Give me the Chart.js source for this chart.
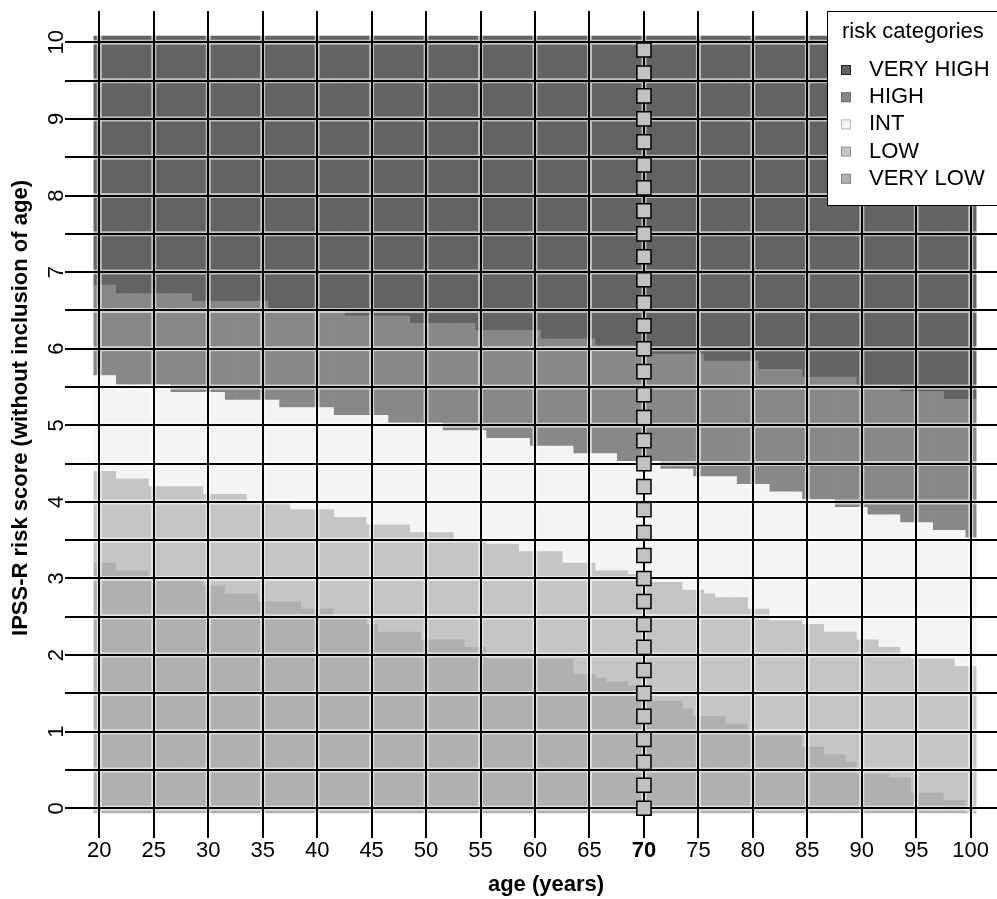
<!DOCTYPE html>
<html>
<head>
<meta charset="utf-8">
<script src="https://cdn.jsdelivr.net/npm/chart.js@4.4.1/dist/chart.umd.min.js"></script>
<style>
  html, body { margin: 0; padding: 0; background: #fff; }
  #wrap { width: 997px; height: 899px; }
</style>
</head>
<body>
<div id="wrap"><canvas id="chart" width="997" height="899"></canvas></div>
<script>
// ages on the x axis (one column per year)
const AGES = [
  20, 21, 22, 23, 24, 25, 26, 27, 28, 29,
  30, 31, 32, 33, 34, 35, 36, 37, 38, 39,
  40, 41, 42, 43, 44, 45, 46, 47, 48, 49,
  50, 51, 52, 53, 54, 55, 56, 57, 58, 59,
  60, 61, 62, 63, 64, 65, 66, 67, 68, 69,
  70, 71, 72, 73, 74, 75, 76, 77, 78, 79,
  80, 81, 82, 83, 84, 85, 86, 87, 88, 89,
  90, 91, 92, 93, 94, 95, 96, 97, 98, 99,
  100
];

// upper edge of each category band, per age (score units)
const TOP_VERY_LOW = [
  3.2, 3.2, 3.1, 3.1, 3.1, 3.0, 3.0, 3.0, 3.0, 3.0,
  2.9, 2.9, 2.8, 2.8, 2.8, 2.7, 2.7, 2.7, 2.7, 2.6,
  2.6, 2.6, 2.5, 2.5, 2.5, 2.4, 2.3, 2.3, 2.3, 2.3,
  2.2, 2.2, 2.2, 2.2, 2.1, 2.1, 1.95, 1.95, 1.95, 1.95,
  1.95, 1.95, 1.95, 1.95, 1.75, 1.75, 1.7, 1.65, 1.65, 1.6,
  1.5, 1.4, 1.4, 1.4, 1.3, 1.2, 1.2, 1.2, 1.1, 1.1,
  0.95, 0.95, 0.95, 0.95, 0.95, 0.8, 0.8, 0.7, 0.7, 0.6,
  0.45, 0.45, 0.45, 0.4, 0.4, 0.2, 0.2, 0.2, 0.1, 0.1,
  -0.06
];
const TOP_LOW = [
  4.4, 4.4, 4.3, 4.3, 4.3, 4.2, 4.2, 4.2, 4.2, 4.2,
  4.1, 4.1, 4.1, 4.1, 4.0, 4.0, 4.0, 4.0, 3.9, 3.9,
  3.9, 3.9, 3.8, 3.8, 3.8, 3.7, 3.7, 3.7, 3.7, 3.6,
  3.6, 3.6, 3.6, 3.5, 3.5, 3.5, 3.45, 3.45, 3.45, 3.35,
  3.35, 3.35, 3.35, 3.2, 3.2, 3.2, 3.1, 3.1, 3.1, 3.05,
  3.0, 2.95, 2.95, 2.95, 2.85, 2.85, 2.8, 2.75, 2.75, 2.75,
  2.6, 2.6, 2.45, 2.45, 2.45, 2.4, 2.4, 2.3, 2.3, 2.3,
  2.2, 2.2, 2.1, 2.1, 2.0, 1.95, 1.95, 1.95, 1.95, 1.85,
  1.85
];
const TOP_INT = [
  5.65, 5.65, 5.53, 5.53, 5.53, 5.53, 5.53, 5.43, 5.43, 5.43,
  5.43, 5.43, 5.33, 5.33, 5.33, 5.33, 5.33, 5.23, 5.23, 5.23,
  5.23, 5.23, 5.13, 5.13, 5.13, 5.13, 5.13, 5.03, 5.03, 5.03,
  5.03, 5.03, 4.93, 4.93, 4.93, 4.93, 4.83, 4.83, 4.83, 4.83,
  4.73, 4.73, 4.73, 4.73, 4.63, 4.63, 4.63, 4.63, 4.53, 4.53,
  4.53, 4.53, 4.43, 4.43, 4.43, 4.33, 4.33, 4.33, 4.33, 4.23,
  4.23, 4.23, 4.13, 4.13, 4.13, 4.03, 4.03, 4.03, 3.93, 3.93,
  3.93, 3.83, 3.83, 3.83, 3.73, 3.73, 3.73, 3.63, 3.63, 3.63,
  3.53
];
const TOP_HIGH = [
  6.83, 6.83, 6.72, 6.72, 6.72, 6.72, 6.72, 6.72, 6.72, 6.62,
  6.62, 6.62, 6.62, 6.62, 6.62, 6.62, 6.52, 6.52, 6.52, 6.52,
  6.52, 6.52, 6.52, 6.43, 6.43, 6.43, 6.43, 6.43, 6.43, 6.33,
  6.33, 6.33, 6.33, 6.33, 6.33, 6.24, 6.24, 6.24, 6.24, 6.24,
  6.24, 6.13, 6.13, 6.13, 6.13, 6.13, 6.04, 6.04, 6.04, 6.04,
  6.04, 5.93, 5.93, 5.93, 5.93, 5.93, 5.84, 5.84, 5.84, 5.84,
  5.84, 5.73, 5.73, 5.73, 5.73, 5.63, 5.63, 5.63, 5.63, 5.63,
  5.52, 5.52, 5.52, 5.52, 5.44, 5.44, 5.44, 5.44, 5.34, 5.34,
  5.34
];
const SCORE_FLOOR = -0.06;
const SCORE_CEIL = 10.08;

const CATEGORIES = ["VERY LOW", "LOW", "INT", "HIGH", "VERY HIGH"];
const CAT_COLORS = ["#b0b0b0", "#c5c5c5", "#f4f4f4", "#888888", "#636363"];

const X_TICKS = [20, 25, 30, 35, 40, 45, 50, 55, 60, 65, 70, 75, 80, 85, 90, 95, 100];
const Y_TICKS = [0, 0.5, 1, 1.5, 2, 2.5, 3, 3.5, 4, 4.5, 5, 5.5, 6, 6.5, 7, 7.5, 8, 8.5, 9, 9.5, 10];

// highlighted age column with its score markers
const AGE_MARK = 70;
const MARK_SCORES = [0, 0.3, 0.6, 0.9, 1.2, 1.5, 1.8, 2.1, 2.4, 2.7, 3, 3.3, 3.6, 3.9, 4.2, 4.5, 4.8,
  5.1, 5.4, 5.7, 6, 6.3, 6.6, 6.9, 7.2, 7.5, 7.8, 8.1, 8.4, 8.7, 9, 9.3, 9.6, 9.9];

const X_TITLE = "age (years)";
const Y_TITLE = "IPSS-R risk score (without inclusion of age)";
const LEGEND_TITLE = "risk categories";

const FONT = "'Liberation Sans', Arial, Helvetica, sans-serif";
Chart.defaults.font.family = FONT;
Chart.defaults.color = "#000";

const bounds = [AGES.map(() => SCORE_FLOOR), TOP_VERY_LOW, TOP_LOW, TOP_INT, TOP_HIGH, AGES.map(() => SCORE_CEIL)];

const bandSets = CATEGORIES.map((name, k) => ({
  type: "bar",
  label: name,
  data: AGES.map((a, i) => ({ x: a, y: [bounds[k][i], bounds[k + 1][i]] })),
  backgroundColor: CAT_COLORS[k],
  borderWidth: 0,
  grouped: false,
  barPercentage: 1,
  categoryPercentage: 1,
}));

const markSet = {
  type: "line",
  label: "age " + AGE_MARK,
  data: MARK_SCORES.map((v) => ({ x: AGE_MARK, y: v })),
  showLine: false,
  pointStyle: "rect",
  pointRadius: 10,
  pointBackgroundColor: "#c2c2c2",
  pointBorderColor: "#000",
  pointBorderWidth: 1.5,
};

const overlay = {
  id: "overlay",
  afterDatasetsDraw(chart) {
    // pale halo along grid lines, the black lines go over it
    const { ctx, chartArea: a, scales: { x, y } } = chart;
    ctx.save();
    ctx.strokeStyle = "rgba(255,255,255,0.6)";
    ctx.lineWidth = 5;
    ctx.beginPath();
    x.ticks.forEach((t) => {
      const px = x.getPixelForValue(t.value);
      ctx.moveTo(px, a.top); ctx.lineTo(px, a.bottom);
    });
    y.ticks.forEach((t) => {
      const py = y.getPixelForValue(t.value);
      ctx.moveTo(a.left, py); ctx.lineTo(a.right, py);
    });
    ctx.stroke();
    ctx.restore();
  },
  afterDraw(chart) {
    const ctx = chart.ctx;
    // markers sit above the grid
    chart.getDatasetMeta(CATEGORIES.length).controller.draw();

    ctx.save();
    ctx.fillStyle = "#000";
    ctx.font = "bold 22px " + FONT;
    ctx.textAlign = "center";
    ctx.textBaseline = "middle";
    ctx.fillText(X_TITLE, 546, 885);
    ctx.save();
    ctx.translate(21, 408);
    ctx.rotate(-Math.PI / 2);
    ctx.fillText(Y_TITLE, 0, 0);
    ctx.restore();

    // legend box, top right
    ctx.fillStyle = "#fff";
    ctx.fillRect(827, 11, 175, 194);
    ctx.strokeStyle = "#000";
    ctx.lineWidth = 1;
    ctx.strokeRect(827.5, 11.5, 175, 194);
    ctx.fillStyle = "#000";
    ctx.textAlign = "left";
    ctx.textBaseline = "alphabetic";
    ctx.font = "22px " + FONT;
    ctx.fillText(LEGEND_TITLE, 842, 38);
    const order = chart.data.datasets.slice(0, CATEGORIES.length).reverse();
    order.forEach((ds, row) => {
      const base = 76 + row * 27.2;
      ctx.fillStyle = ds.backgroundColor;
      ctx.fillRect(841, base - 11, 10, 10);
      ctx.strokeStyle = row === 0 ? "#222" : "rgba(0,0,0,0.25)";
      ctx.strokeRect(841.5, base - 10.5, 9, 9);
      ctx.fillStyle = "#000";
      ctx.fillText(ds.label, 869, base);
    });
    ctx.restore();
  },
};

const gridOpts = { color: "#000", lineWidth: 2, z: 1, drawTicks: false, offset: false };

new Chart(document.getElementById("chart"), {
  type: "bar",
  data: { datasets: [...bandSets, markSet] },
  options: {
    responsive: false,
    animation: false,
    events: [],
    devicePixelRatio: 1,
    layout: { autoPadding: false, padding: { top: 11, right: 0, bottom: 0, left: 0 } },
    plugins: { legend: { display: false }, tooltip: { enabled: false } },
    scales: {
      x: {
        type: "linear",
        min: 16.851,
        max: 102.414,
        offset: false,
        afterBuildTicks: (s) => { s.ticks = X_TICKS.map((v) => ({ value: v })); },
        afterFit: (s) => { s.height = 61; s.paddingLeft = 0; s.paddingRight = 0; },
        grid: gridOpts,
        border: { display: false },
        ticks: {
          autoSkip: false,
          maxRotation: 0,
          minRotation: 0,
          padding: 0,
          color: "#000",
          font: (c) => ({ family: FONT, size: 22, weight: c.tick && c.tick.value === AGE_MARK ? "bold" : "normal" }),
          callback: (v) => String(v),
        },
      },
      y: {
        type: "linear",
        min: -0.388,
        max: 10.409,
        afterBuildTicks: (s) => { s.ticks = Y_TICKS.map((v) => ({ value: v })); },
        afterFit: (s) => { s.width = 65; s.paddingTop = 0; s.paddingBottom = 0; },
        grid: gridOpts,
        border: { display: false },
        ticks: {
          autoSkip: false,
          minRotation: 90,
          maxRotation: 90,
          crossAlign: "center",
          padding: -4,
          color: "#000",
          font: { family: FONT, size: 22 },
          callback: (v) => (Number.isInteger(v) ? String(v) : ""),
        },
      },
    },
  },
  plugins: [overlay],
});
</script>
</body>
</html>
